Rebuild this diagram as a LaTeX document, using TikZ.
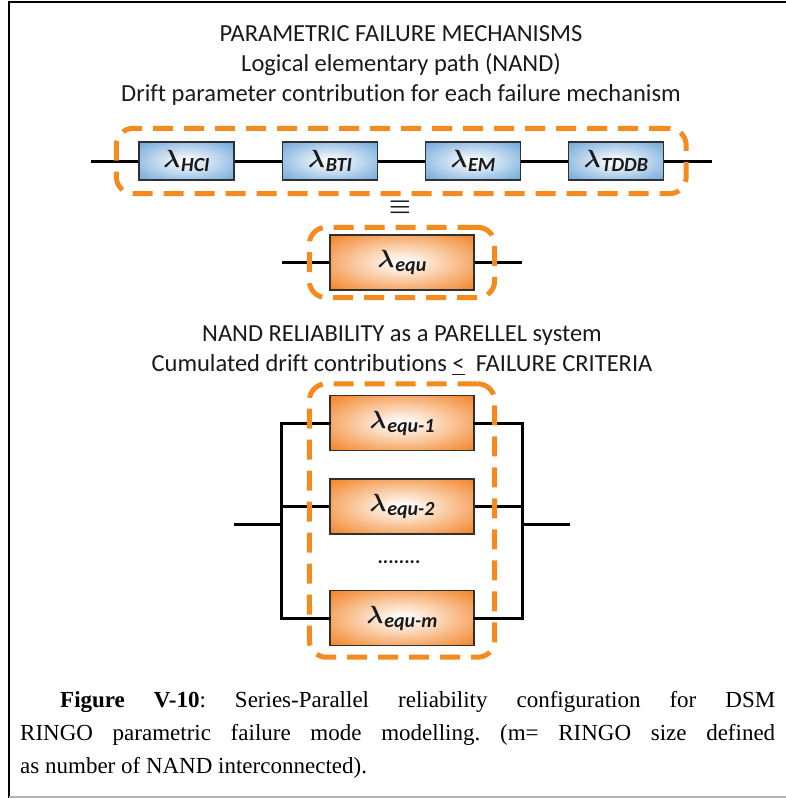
\documentclass[tikz,border=0pt]{standalone}
\usepackage{amsmath}
\usepackage{fontspec}
\setmainfont{Carlito}[Ligatures=NoCommon]
\newfontfamily\capfont{Liberation Serif}
\usetikzlibrary{fit,positioning}
\definecolor{bluebox}{HTML}{5B9BD5}
\definecolor{orgbox}{HTML}{F28020}
\definecolor{orgdash}{HTML}{F58A1F}
\definecolor{boxline}{HTML}{303030}
\definecolor{txt}{HTML}{1A1A1A}
\pgfdeclareradialshading{blueglow}{\pgfpoint{0bp}{0bp}}{color(0bp)=(white); color(5bp)=(white!90!bluebox); color(38bp)=(bluebox!95!white); color(50bp)=(bluebox)}
\pgfdeclareradialshading{orangeglow}{\pgfpoint{0bp}{0bp}}{color(0bp)=(white); color(5bp)=(white!90!orgbox); color(36bp)=(orgbox); color(50bp)=(orgbox)}
\newcommand{\lamlab}[1]{{\fontsize{29}{29}\selectfont$\boldsymbol{\lambda}$}\kern1pt\raisebox{-4pt}{\fontsize{20}{20}\selectfont\bfseries\itshape #1}}
\begin{document}
\begin{tikzpicture}[x=1pt,y=-1pt,
  conn/.style={line width=3pt,black},
  bluenode/.style={draw=boxline,line width=1.4pt,shading=blueglow,minimum width=95pt,minimum height=38pt,inner sep=0pt,text=txt},
  orgnode/.style={draw=boxline,line width=1.4pt,shading=orangeglow,minimum width=144pt,minimum height=55pt,inner sep=0pt,text=txt},
  grp/.style={draw=orgdash,line width=5pt,dash pattern=on 20pt off 11pt,rounded corners=17pt},
  ttl/.style={font=\fontsize{24.5}{24.5}\selectfont,text=txt,anchor=base,inner sep=0pt}]
\useasboundingbox (0,0) rectangle (786,798);
% frame
\draw[line width=2.2pt,black] (9,798) -- (9,2) -- (786,2);
\draw[line width=1.5pt,black!30] (9,797) -- (786,797);
% titles
\node[ttl] (t1) at (401,41) {PARAMETRIC FAILURE MECHANISMS};
\node[ttl] (t2) at (401,71) {Logical elementary path (NAND)};
\node[ttl] (t3) at (401,101) {Drift parameter contribution for each failure mechanism};
% top chain
\coordinate (inA) at (91,161);
\coordinate (outA) at (712,161);
\node[bluenode] (hci) at (186.5,161) {\lamlab{HCI}};
\node[bluenode] (bti) at (330,161) {\lamlab{BTI}};
\node[bluenode] (em) at (473,161) {\lamlab{EM}};
\node[bluenode] (tddb) at (616,161) {\lamlab{TDDB}};
\draw[conn] (inA) -- (hci.west);
\draw[conn] (hci.east) -- (bti.west);
\draw[conn] (bti.east) -- (em.west);
\draw[conn] (em.east) -- (tddb.west);
\draw[conn] (tddb.east) -- (outA);
\node[grp,fit=(hci)(tddb),inner xsep=22pt,inner ysep=13pt] (g1) {};
% equivalence
\node[font=\fontsize{23}{23}\selectfont,text=txt] (eqv) at (400,207) {$\boldsymbol{\equiv}$};
% equivalent box
\coordinate (inB) at (282,262.5);
\coordinate (outB) at (522,262.5);
\node[orgnode] (equ) at (402,262.5) {\lamlab{equ}};
\draw[conn] (inB) -- (equ.west);
\draw[conn] (equ.east) -- (outB);
\node[grp,fit=(equ),inner xsep=20pt,inner ysep=7pt] (g2) {};
% second titles
\node[ttl] (t4) at (402,341) {NAND RELIABILITY as a PARELLEL system};
\node[ttl] (t5) at (402,371) {Cumulated drift contributions \underline{<}\ \ FAILURE CRITERIA};
% parallel
\node[orgnode] (e1) at (402,423) {\lamlab{equ-1}};
\node[orgnode] (e2) at (402,506.5) {\lamlab{equ-2}};
\node[font=\fontsize{20}{20}\selectfont\bfseries,text=txt,anchor=base,inner sep=0pt] (dots) at (399,563) {........};
\node[orgnode] (em2) at (402,618) {\lamlab{equ-m}};
\coordinate (lt) at (281,423);
\coordinate (lm) at (281,506.5);
\coordinate (lb) at (281,618);
\coordinate (rt) at (522,423);
\coordinate (rm) at (522,506.5);
\coordinate (rb) at (522,618);
\coordinate (li) at (281,524);
\coordinate (ri) at (522,524);
\coordinate (inC) at (234,524);
\coordinate (outC) at (570,524);
\draw[conn,line cap=rect] (e1.west) -- (lt) -- (lb) -- (em2.west);
\draw[conn] (lm) -- (e2.west);
\draw[conn,line cap=rect] (e1.east) -- (rt) -- (rb) -- (em2.east);
\draw[conn] (rm) -- (e2.east);
\draw[conn] (inC) -- (li);
\draw[conn] (ri) -- (outC);
\node[grp,fit=(e1)(em2),inner xsep=20pt,inner ysep=11pt] (g3) {};
% caption
\node[anchor=north west,inner sep=0pt,text width=755pt,align=justify,font=\capfont\fontsize{23}{33}\selectfont\frenchspacing] (cap) at (20,691)
{\hspace*{40pt}\textbf{Figure V-10}: Series-Parallel reliability configuration for DSM\linebreak RINGO parametric failure mode modelling. (m= RINGO size defined\linebreak as number of NAND interconnected).};
\end{tikzpicture}
\end{document}
